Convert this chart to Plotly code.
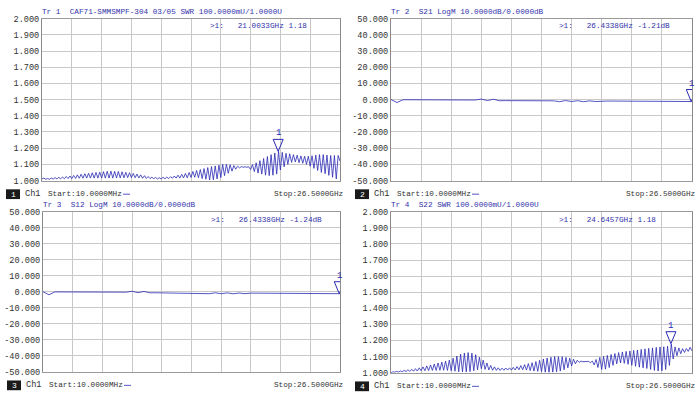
import plotly.graph_objects as go

W, H = 700, 405
F_START, F_STOP = 0.01, 26.5  # GHz

# ---------------- data ----------------
swr_ticks = [1.0, 1.1, 1.2, 1.3, 1.4, 1.5, 1.6, 1.7, 1.8, 1.9, 2.0]
swr_tick_text = ["1.000", "1.100", "1.200", "1.300", "1.400", "1.500",
                 "1.600", "1.700", "1.800", "1.900", "2.000"]
db_ticks = [-50, -40, -30, -20, -10, 0, 10, 20, 30, 40, 50]
db_tick_text = ["-50.000", "-40.000", "-30.000", "-20.000", "-10.000", "0.000",
                "10.000", "20.000", "30.000", "40.000", "50.000"]

# S11 SWR ripple: local maxima and minima (alternating samples), 8 cycles/division
s11_peaks = [
    1.015, 1.012, 1.015, 1.018, 1.020, 1.022, 1.025, 1.028,
    1.031, 1.035, 1.039, 1.042, 1.045, 1.048, 1.050, 1.052,
    1.055, 1.057, 1.058, 1.057, 1.056, 1.054, 1.051, 1.048,
    1.044, 1.040, 1.035, 1.030, 1.025, 1.021, 1.019, 1.017,
    1.020, 1.021, 1.024, 1.028, 1.033, 1.038, 1.044, 1.050,
    1.056, 1.062, 1.068, 1.074, 1.080, 1.086, 1.090, 1.095,
    1.100, 1.100, 1.097, 1.093, 1.089, 1.086, 1.085, 1.085,
    1.098, 1.110, 1.123, 1.136, 1.148, 1.160, 1.170, 1.180,
    1.174, 1.168, 1.165, 1.160, 1.156, 1.152, 1.150, 1.150,
    1.153, 1.157, 1.160, 1.160, 1.157, 1.155, 1.155, 1.155,
]
s11_troughs = [
    1.010, 1.008, 1.008, 1.009, 1.010, 1.010, 1.011, 1.012,
    1.012, 1.013, 1.014, 1.014, 1.015, 1.015, 1.015, 1.015,
    1.015, 1.015, 1.015, 1.015, 1.016, 1.016, 1.017, 1.018,
    1.018, 1.017, 1.016, 1.014, 1.013, 1.012, 1.011, 1.010,
    1.010, 1.011, 1.012, 1.014, 1.015, 1.015, 1.016, 1.017,
    1.019, 1.020, 1.017, 1.012, 1.008, 1.004, 1.005, 1.010,
    1.018, 1.030, 1.045, 1.058, 1.070, 1.078, 1.082, 1.082,
    1.068, 1.055, 1.046, 1.040, 1.033, 1.030, 1.033, 1.040,
    1.065, 1.085, 1.100, 1.112, 1.115, 1.110, 1.107, 1.100,
    1.088, 1.075, 1.062, 1.050, 1.042, 1.032, 1.020, 1.010,
    1.120,
]

# S22 SWR ripple
s22_peaks = [
    1.005, 1.008, 1.011, 1.014, 1.018, 1.021, 1.025, 1.030,
    1.036, 1.042, 1.048, 1.054, 1.060, 1.066, 1.072, 1.078,
    1.090, 1.103, 1.115, 1.122, 1.125, 1.121, 1.112, 1.096,
    1.078, 1.060, 1.045, 1.036, 1.030, 1.028, 1.029, 1.030,
    1.033, 1.038, 1.044, 1.050, 1.056, 1.062, 1.069, 1.077,
    1.085, 1.091, 1.096, 1.100, 1.100, 1.099, 1.095, 1.090,
    1.084, 1.077, 1.072, 1.070, 1.070, 1.072, 1.082, 1.095,
    1.101, 1.107, 1.113, 1.119, 1.125, 1.129, 1.132, 1.135,
    1.138, 1.141, 1.145, 1.148, 1.151, 1.154, 1.157, 1.160,
    1.161, 1.164, 1.178, 1.160, 1.154, 1.149, 1.150, 1.158,
]
s22_troughs = [
    1.000, 1.003, 1.004, 1.006, 1.007, 1.008, 1.009, 1.010,
    1.012, 1.012, 1.013, 1.014, 1.014, 1.015, 1.015, 1.014,
    1.012, 1.009, 1.006, 1.005, 1.005, 1.007, 1.012, 1.018,
    1.025, 1.020, 1.017, 1.015, 1.014, 1.014, 1.015, 1.016,
    1.016, 1.017, 1.018, 1.018, 1.016, 1.013, 1.010, 1.008,
    1.006, 1.003, 1.002, 1.003, 1.006, 1.010, 1.018, 1.030,
    1.042, 1.055, 1.064, 1.068, 1.068, 1.062, 1.048, 1.032,
    1.020, 1.022, 1.032, 1.045, 1.055, 1.060, 1.058, 1.052,
    1.046, 1.040, 1.034, 1.030, 1.026, 1.020, 1.014, 1.010,
    1.012, 1.020, 1.045, 1.085, 1.105, 1.118, 1.126, 1.132,
    1.135,
]

# S21 / S12 LogM (dB), 51 samples across the sweep
s21_db = [
    0.00, -1.80, -0.10, -0.12, -0.14, -0.15, -0.17, -0.18, -0.20, -0.21,
    -0.22, -0.24, -0.25, -0.27, -0.28, 0.30, -0.60, 0.20, -0.70, -0.65,
    -0.66, -0.68, -0.70, -0.72, -0.73, -0.75, -0.76, -0.78, -1.30, -0.60,
    -1.20, -0.70, -1.30, -0.80, -1.20, -0.85, -0.90, -0.92, -0.95, -0.97,
    -1.00, -1.02, -1.05, -1.07, -1.10, -1.12, -1.14, -1.16, -1.18, -1.20,
    -1.21,
]
s12_db = [
    0.00, -1.90, -0.12, -0.14, -0.15, -0.16, -0.18, -0.19, -0.21, -0.22,
    -0.23, -0.25, -0.26, -0.28, -0.29, 0.25, -0.55, 0.15, -0.68, -0.66,
    -0.68, -0.70, -0.72, -0.74, -0.75, -0.77, -0.78, -0.80, -1.25, -0.65,
    -1.25, -0.72, -1.30, -0.82, -1.22, -0.88, -0.92, -0.95, -0.97, -1.00,
    -1.02, -1.05, -1.07, -1.10, -1.12, -1.14, -1.16, -1.18, -1.20, -1.22,
    -1.24,
]

# marker readouts
mk_freq = [21.0033, 26.4338, 26.4338, 24.6457]
mk_val = [1.18, -1.21, -1.24, 1.18]
mk_text = [">1:   21.0033GHz 1.18", ">1:   26.4338GHz -1.21dB",
           ">1:   26.4338GHz -1.24dB", ">1:   24.6457GHz 1.18"]
headers = ["Tr 1  CAF71-SMMSMPF-304 03/05 SWR 100.0000mU/1.0000U",
           "Tr 2  S21 LogM 10.0000dB/0.0000dB",
           "Tr 3  S12 LogM 10.0000dB/0.0000dB",
           "Tr 4  S22 SWR 100.0000mU/1.0000U"]
ch_numbers = ["1", "2", "3", "4"]
start_text = "Start:10.0000MHz"
stop_text = "Stop:26.5000GHz"

# ---------------- helpers ----------------
def interleave(troughs, peaks):
    out = []
    for i in range(len(peaks)):
        out.append(troughs[i])
        out.append(peaks[i])
    out.append(troughs[len(peaks)])
    return out

def sweep(n):
    return [F_START + i * (F_STOP - F_START) / (n - 1) for i in range(n)]

# pixel boxes of the four panels (left, right, top, bottom)
boxes = [(42, 340, 15, 181), (391, 692, 15, 181),
         (43, 340, 213, 377), (391, 692, 213, 378)]

TRACE = "#2a2ab5"
TEXT_BLUE = "#3333aa"
TEXT_DARK = "#333333"
GRID = "#c8c8c8"
FONT = "Liberation Mono"

def px(x):
    return x / W

def py(y):
    return 1 - y / H

fig = go.Figure()
y11 = interleave(s11_troughs, s11_peaks)
y22 = interleave(s22_troughs, s22_peaks)
series = [
    (sweep(len(y11)), y11),
    (sweep(len(s21_db)), s21_db),
    (sweep(len(s12_db)), s12_db),
    (sweep(len(y22)), y22),
]
is_swr = [True, False, False, True]
grid_x = [F_START + k * (F_STOP - F_START) / 10 for k in range(11)]

shapes = []
annotations = []

def label(x, y, text, size, color, anchor="left"):
    annotations.append(dict(x=px(x), y=py(y), xref="paper", yref="paper",
                            text=text, showarrow=False, xanchor=anchor,
                            yanchor="middle", borderpad=0,
                            font=dict(family=FONT, size=size, color=color)))

for i, ((fx, fy), box) in enumerate(zip(series, boxes)):
    n = "" if i == 0 else str(i + 1)
    l, r, t, b = box
    fig.add_trace(go.Scatter(x=fx, y=fy, mode="lines",
                             line=dict(color=TRACE, width=0.8),
                             xaxis="x" + n, yaxis="y" + n,
                             showlegend=False, hoverinfo="skip"))
    fig.update_layout(**{
        "xaxis" + n: dict(domain=[px(l), px(r)], range=[F_START, F_STOP],
                          anchor="y" + n, tickvals=grid_x, showticklabels=False,
                          ticks="", showgrid=True, gridcolor=GRID, gridwidth=1,
                          showline=True, linecolor="#9a9a9a", linewidth=1,
                          mirror=True, zeroline=False),
        "yaxis" + n: dict(domain=[py(b), py(t)],
                          range=[1.0, 2.0] if is_swr[i] else [-50, 50],
                          anchor="x" + n,
                          tickvals=swr_ticks if is_swr[i] else db_ticks,
                          ticktext=swr_tick_text if is_swr[i] else db_tick_text,
                          ticks="", showgrid=True, gridcolor=GRID, gridwidth=1,
                          showline=True, linecolor="#8a8a8a", linewidth=1,
                          mirror=True, zeroline=False,
                          tickfont=dict(family=FONT, size=8.6, color=TEXT_DARK)),
    })
    ref = 1.0 if is_swr[i] else 0.0
    xr, yr = "x" + n, "y" + n
    # reference-level arrows at both edges
    shapes.append(dict(type="path", xref=xr, yref=yr, xsizemode="pixel",
                       ysizemode="pixel", xanchor=F_START, yanchor=ref,
                       path="M-6,-4 L0,0 L-6,4 Z", fillcolor=TRACE,
                       line=dict(color=TRACE, width=1)))
    shapes.append(dict(type="path", xref=xr, yref=yr, xsizemode="pixel",
                       ysizemode="pixel", xanchor=F_STOP, yanchor=ref,
                       path="M6,-4 L0,0 L6,4 Z", fillcolor=TRACE,
                       line=dict(color=TRACE, width=1)))
    # marker 1 triangle
    shapes.append(dict(type="path", xref=xr, yref=yr, xsizemode="pixel",
                       ysizemode="pixel", xanchor=mk_freq[i], yanchor=mk_val[i],
                       path="M0,0 L-5,12 L5,12 Z", fillcolor="rgba(0,0,0,0)",
                       line=dict(color=TRACE, width=1)))
    annotations.append(dict(x=mk_freq[i], y=mk_val[i], xref=xr, yref=yr,
                            text="1", showarrow=False, yshift=18,
                            font=dict(family=FONT, size=9, color=TRACE)))
    # header line and marker readout
    label(l - 1, t - 7, headers[i], 7.7, TEXT_BLUE)
    label(l + 167, t + 8, mk_text[i], 7.7, TEXT_BLUE)
    # footer
    fy0 = b + 14
    bx = l - 36
    shapes.append(dict(type="rect", xref="paper", yref="paper",
                       x0=px(bx), x1=px(bx + 14), y0=py(fy0 + 5), y1=py(fy0 - 5),
                       fillcolor="#1a1a1a", line=dict(width=0)))
    label(bx + 7, fy0, ch_numbers[i], 8, "white", "center")
    label(bx + 18, fy0, "Ch1", 8.6, TEXT_DARK)
    label(bx + 41, fy0, start_text, 7.7, TEXT_DARK)
    shapes.append(dict(type="line", xref="paper", yref="paper",
                       x0=px(bx + 117), x1=px(bx + 124), y0=py(fy0), y1=py(fy0),
                       line=dict(color="#5555cc", width=1)))
    label(r + 5, fy0, stop_text, 7.7, TEXT_DARK, "right")

fig.update_layout(width=W, height=H, margin=dict(l=0, r=0, t=0, b=0),
                  paper_bgcolor="white", plot_bgcolor="white",
                  shapes=shapes, annotations=annotations,
                  font=dict(family=FONT))
fig.write_html("out.html", config={"displayModeBar": False},
               post_script="document.body.style.margin='0';"
                           "document.body.style.overflow='hidden';")
